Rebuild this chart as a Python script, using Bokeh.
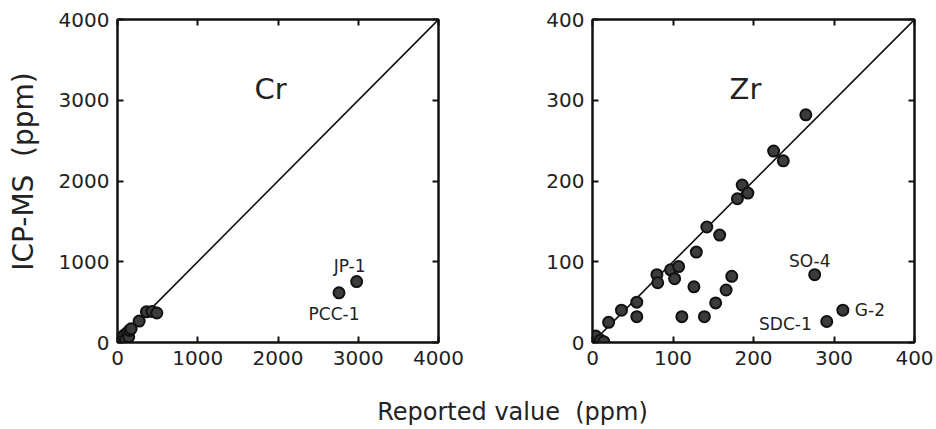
from bokeh.plotting import figure
from bokeh.models import Label, LinearAxis, FixedTicker, Range1d
from bokeh.layouts import row, column
from bokeh.embed import file_html
from bokeh.resources import INLINE

FONT = "DejaVu Sans"

# ---- data ----
cr_reported = [15, 50, 80, 100, 120, 140, 150, 170, 270, 360, 430, 490, 2760, 2980]
cr_icpms = [10, 40, 90, 40, 120, 70, 150, 170, 265, 380, 385, 365, 615, 755]
cr_names = ["", "", "", "", "", "", "", "", "", "", "", "", "PCC-1", "JP-1"]

zr_reported = [1, 4, 10, 14, 20, 36, 55, 55, 80, 81, 97, 102, 107, 111, 126, 129,
               139, 142, 153, 158, 166, 173, 180, 186, 193, 225, 237, 265, 276, 291, 311]
zr_icpms = [2, 8, 3, 1, 25, 40, 50, 32, 84, 74, 90, 79, 94, 32, 69, 112,
            32, 143, 49, 133, 65, 82, 178, 195, 185, 237, 225, 282, 84, 26, 40]
zr_names = [""] * 28 + ["SO-4", "SDC-1", "G-2"]

cr_ticks = [0, 1000, 2000, 3000, 4000]
zr_ticks = [0, 100, 200, 300, 400]
cr_limits = [0, 4000]
zr_limits = [0, 400]

y_title = "ICP-MS \u00a0(ppm)"
x_title = "Reported value \u00a0(ppm)"

# label placement (style): name -> (x_offset, y_offset, align)
label_style = {
    "JP-1": (-7, 16, "center"),
    "PCC-1": (-5, -21, "center"),
    "SO-4": (-5, 14, "center"),
    "G-2": (12, 0, "left"),
    "SDC-1": (-15, -2, "right"),
}

PANEL_H = 377


def style_axis(ax, ticks, show_labels):
    ax.ticker = FixedTicker(ticks=ticks)
    ax.major_tick_in = 6
    ax.major_tick_out = 0
    ax.minor_tick_line_color = None
    ax.axis_line_width = 2
    ax.axis_line_color = "#111111"
    ax.major_tick_line_width = 2
    ax.major_tick_line_color = "#111111"
    ax.major_label_text_font = FONT
    if show_labels:
        ax.major_label_text_color = "#222222"
        ax.major_label_text_font_size = "20px"
        ax.major_label_standoff = 8
    else:
        ax.major_label_text_color = None
        ax.major_label_text_font_size = "1px"
        ax.major_label_standoff = 0


def make_panel(reported, icpms, names, ticks, limits, width, bl, br, element):
    p = figure(width=width, height=PANEL_H,
               x_range=Range1d(limits[0], limits[1]),
               y_range=Range1d(limits[0], limits[1]),
               output_backend="svg", toolbar_location=None,
               min_border_left=bl, min_border_right=br,
               min_border_top=19, min_border_bottom=35)
    p.xgrid.visible = False
    p.ygrid.visible = False
    p.outline_line_color = "#111111"
    p.outline_line_width = 2
    style_axis(p.xaxis[0], ticks, True)
    style_axis(p.yaxis[0], ticks, True)
    top = LinearAxis()
    right = LinearAxis()
    style_axis(top, ticks, False)
    style_axis(right, ticks, False)
    p.add_layout(top, "above")
    p.add_layout(right, "right")

    p.line(limits, limits, line_color="#111111", line_width=1.6)
    p.scatter(reported, icpms, size=11, fill_color="#3c3c3c",
              line_color="#111111", line_width=2)

    for xv, yv, nm in zip(reported, icpms, names):
        if nm:
            dx, dy, al = label_style[nm]
            p.add_layout(Label(x=xv, y=yv, x_offset=dx, y_offset=dy, text=nm,
                               text_align=al, text_baseline="middle",
                               text_font=FONT, text_font_size="17px",
                               text_color="#222222"))
    p.add_layout(Label(x=153, y=254, x_units="screen", y_units="screen",
                       text=element, text_align="center", text_baseline="middle",
                       text_font=FONT, text_font_size="29px", text_color="#222222"))
    return p


# left strip holding the vertical axis title
p0 = figure(width=48, height=PANEL_H, x_range=Range1d(0, 1), y_range=Range1d(0, 1),
            x_axis_type=None, y_axis_type=None, output_backend="svg",
            toolbar_location=None, min_border=0)
p0.outline_line_color = None
p0.xgrid.visible = False
p0.ygrid.visible = False
p0.add_layout(Label(x=23, y=171, x_units="screen", y_units="screen",
                    text=y_title, angle=1.5707963, text_align="center",
                    text_baseline="middle", text_font=FONT, text_font_size="28px",
                    text_color="#222222"))

p1 = make_panel(cr_reported, cr_icpms, cr_names, cr_ticks, cr_limits, 422, 69, 32, "Cr")
p2 = make_panel(zr_reported, zr_icpms, zr_names, zr_ticks, zr_limits, 466, 122, 22, "Zr")

# bottom strip holding the shared horizontal axis title
p3 = figure(width=936, height=52, x_range=Range1d(0, 1), y_range=Range1d(0, 1),
            x_axis_type=None, y_axis_type=None, output_backend="svg",
            toolbar_location=None, min_border=0)
p3.outline_line_color = None
p3.xgrid.visible = False
p3.ygrid.visible = False
p3.add_layout(Label(x=512, y=18, x_units="screen", y_units="screen",
                    text=x_title, text_align="center",
                    text_baseline="alphabetic", text_font=FONT,
                    text_font_size="24px", text_color="#222222"))

layout = column(row(p0, p1, p2), p3)
open("out.html", "w").write(file_html(layout, INLINE))
